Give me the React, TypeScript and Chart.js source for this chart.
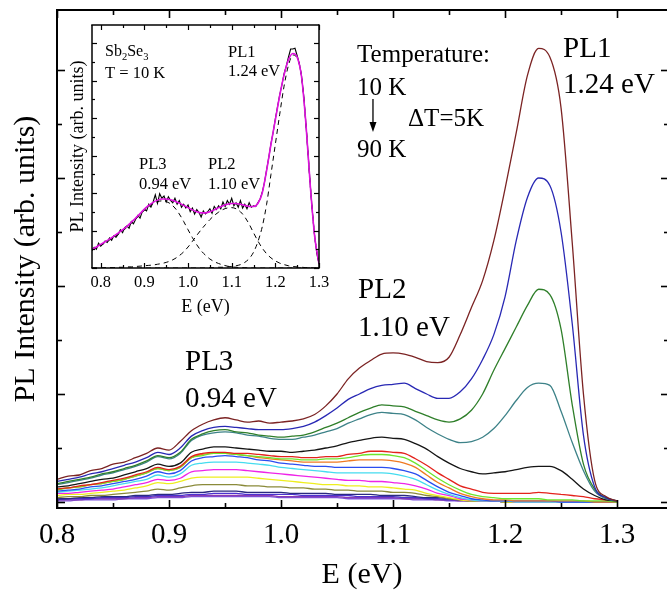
import React, { useEffect, useRef } from "react";
import { Chart, registerables } from "chart.js";

Chart.register(...registerables);

const SERIF = "'Liberation Serif', 'Times New Roman', Times, serif";

// ---------- Main plot data (E in eV, PL intensity in arb. units) ----------
const energies = [
  0.80, 0.81, 0.82, 0.83, 0.84, 0.85, 0.86, 0.87, 0.88, 0.89,
  0.90, 0.91, 0.92, 0.93, 0.94, 0.95, 0.96, 0.97, 0.98, 0.99,
  1.00, 1.01, 1.02, 1.03, 1.04, 1.05, 1.06, 1.07, 1.08, 1.09,
  1.10, 1.11, 1.12, 1.13, 1.14, 1.15, 1.16, 1.17, 1.18, 1.19,
  1.20, 1.21, 1.22, 1.23, 1.24, 1.25, 1.26, 1.27, 1.28, 1.29,
  1.30,
];

const pl10K = [
  0.21, 0.24, 0.25, 0.29, 0.31, 0.35, 0.37, 0.41, 0.45, 0.50,
  0.48, 0.56, 0.66, 0.72, 0.76, 0.78, 0.76, 0.74, 0.75, 0.73,
  0.74, 0.75, 0.77, 0.81, 0.89, 1.00, 1.14, 1.24, 1.31, 1.37,
  1.38, 1.37, 1.34, 1.30, 1.29, 1.34, 1.55, 1.80, 2.05, 2.42,
  2.90, 3.42, 3.95, 4.20, 4.12, 3.65, 2.40, 1.00, 0.20, 0.05,
  0.01,
];
const pl15K = [
  0.19, 0.21, 0.23, 0.26, 0.28, 0.31, 0.34, 0.37, 0.41, 0.46,
  0.44, 0.50, 0.61, 0.66, 0.69, 0.70, 0.69, 0.68, 0.67, 0.67,
  0.67, 0.68, 0.70, 0.74, 0.80, 0.87, 0.95, 1.00, 1.05, 1.08,
  1.09, 1.10, 1.05, 1.00, 0.96, 0.96, 1.02, 1.14, 1.32, 1.55,
  1.90, 2.42, 2.82, 3.00, 2.93, 2.50, 1.65, 0.62, 0.14, 0.04,
  0.01,
];
const pl20K = [
  0.17, 0.19, 0.21, 0.23, 0.26, 0.28, 0.31, 0.34, 0.38, 0.43,
  0.41, 0.46, 0.58, 0.63, 0.66, 0.67, 0.65, 0.64, 0.62, 0.61,
  0.60, 0.61, 0.62, 0.65, 0.69, 0.73, 0.78, 0.83, 0.87, 0.90,
  0.89, 0.88, 0.84, 0.80, 0.76, 0.74, 0.77, 0.85, 1.00, 1.22,
  1.42, 1.62, 1.82, 1.97, 1.92, 1.60, 0.90, 0.35, 0.12, 0.04,
  0.01,
];
const pl25K = [
  0.16, 0.18, 0.20, 0.22, 0.25, 0.27, 0.30, 0.33, 0.37, 0.42,
  0.40, 0.45, 0.57, 0.62, 0.64, 0.65, 0.64, 0.62, 0.61, 0.59,
  0.58, 0.58, 0.60, 0.62, 0.65, 0.68, 0.73, 0.77, 0.81, 0.83,
  0.82, 0.81, 0.76, 0.69, 0.63, 0.58, 0.55, 0.56, 0.60, 0.68,
  0.80, 0.94, 1.06, 1.10, 1.08, 0.84, 0.55, 0.29, 0.10, 0.03,
  0.01,
];
const pl30K = [
  0.14, 0.15, 0.17, 0.19, 0.21, 0.22, 0.25, 0.28, 0.31, 0.35,
  0.33, 0.36, 0.46, 0.49, 0.51, 0.51, 0.50, 0.49, 0.48, 0.47,
  0.47, 0.46, 0.47, 0.48, 0.50, 0.52, 0.55, 0.57, 0.59, 0.60,
  0.59, 0.58, 0.54, 0.49, 0.42, 0.36, 0.31, 0.28, 0.26, 0.27,
  0.28, 0.30, 0.32, 0.33, 0.33, 0.29, 0.21, 0.12, 0.06, 0.02,
  0.01,
];
const pl35K = [
  0.12, 0.13, 0.15, 0.16, 0.18, 0.20, 0.22, 0.25, 0.28, 0.32,
  0.30, 0.33, 0.42, 0.45, 0.46, 0.46, 0.45, 0.45, 0.44, 0.43,
  0.42, 0.42, 0.41, 0.41, 0.42, 0.42, 0.44, 0.45, 0.47, 0.47,
  0.46, 0.45, 0.40, 0.34, 0.27, 0.21, 0.15, 0.12, 0.09, 0.08,
  0.08, 0.08, 0.08, 0.09, 0.08, 0.07, 0.06, 0.05, 0.03, 0.02,
  0.01,
];
const pl40K = [
  0.11, 0.13, 0.14, 0.16, 0.17, 0.19, 0.21, 0.24, 0.27, 0.31,
  0.29, 0.32, 0.41, 0.43, 0.45, 0.45, 0.44, 0.43, 0.42, 0.41,
  0.40, 0.40, 0.39, 0.39, 0.40, 0.40, 0.41, 0.43, 0.44, 0.44,
  0.43, 0.41, 0.36, 0.29, 0.22, 0.16, 0.11, 0.07, 0.05, 0.04,
  0.03, 0.03, 0.03, 0.03, 0.02, 0.02, 0.02, 0.01, 0.01, 0.01,
  0.00,
];
const pl45K = [
  0.12, 0.13, 0.14, 0.16, 0.17, 0.19, 0.21, 0.24, 0.27, 0.31,
  0.29, 0.32, 0.41, 0.44, 0.45, 0.45, 0.44, 0.43, 0.41, 0.40,
  0.39, 0.38, 0.37, 0.37, 0.37, 0.37, 0.38, 0.39, 0.39, 0.39,
  0.38, 0.36, 0.32, 0.25, 0.18, 0.13, 0.08, 0.05, 0.03, 0.02,
  0.02, 0.01, 0.01, 0.01, 0.01, 0.01, 0.01, 0.01, 0.00, 0.00,
  0.00,
];
const pl50K = [
  0.10, 0.11, 0.12, 0.14, 0.15, 0.17, 0.19, 0.21, 0.24, 0.28,
  0.26, 0.29, 0.38, 0.41, 0.42, 0.43, 0.42, 0.41, 0.39, 0.38,
  0.36, 0.35, 0.34, 0.33, 0.33, 0.32, 0.32, 0.32, 0.32, 0.32,
  0.31, 0.29, 0.26, 0.20, 0.14, 0.09, 0.06, 0.03, 0.02, 0.01,
  0.01, 0.01, 0.01, 0.01, 0.01, 0.00, 0.00, 0.00, 0.00, 0.00,
  0.00,
];
const pl55K = [
  0.09, 0.10, 0.11, 0.12, 0.13, 0.15, 0.17, 0.19, 0.21, 0.25,
  0.23, 0.26, 0.34, 0.36, 0.37, 0.37, 0.37, 0.36, 0.35, 0.34,
  0.32, 0.31, 0.30, 0.29, 0.28, 0.27, 0.27, 0.27, 0.27, 0.27,
  0.26, 0.24, 0.21, 0.16, 0.11, 0.07, 0.04, 0.02, 0.01, 0.01,
  0.01, 0.00, 0.00, 0.00, 0.00, 0.00, 0.00, 0.00, 0.00, 0.00,
  0.00,
];
const pl60K = [
  0.08, 0.08, 0.09, 0.10, 0.11, 0.12, 0.14, 0.16, 0.18, 0.21,
  0.20, 0.22, 0.28, 0.29, 0.30, 0.30, 0.30, 0.29, 0.28, 0.27,
  0.26, 0.25, 0.24, 0.23, 0.22, 0.21, 0.20, 0.20, 0.19, 0.19,
  0.18, 0.17, 0.15, 0.12, 0.08, 0.06, 0.03, 0.02, 0.01, 0.01,
  0.01, 0.00, 0.00, 0.00, 0.00, 0.00, 0.00, 0.00, 0.00, 0.00,
  0.00,
];
const pl65K = [
  0.06, 0.07, 0.07, 0.08, 0.09, 0.10, 0.11, 0.13, 0.15, 0.18,
  0.17, 0.19, 0.22, 0.23, 0.23, 0.23, 0.23, 0.23, 0.22, 0.21,
  0.20, 0.19, 0.18, 0.17, 0.16, 0.16, 0.15, 0.15, 0.14, 0.14,
  0.13, 0.12, 0.11, 0.08, 0.06, 0.04, 0.02, 0.01, 0.01, 0.01,
  0.00, 0.00, 0.00, 0.00, 0.00, 0.00, 0.00, 0.00, 0.00, 0.00,
  0.00,
];
const pl70K = [
  0.04, 0.05, 0.05, 0.06, 0.06, 0.07, 0.08, 0.09, 0.10, 0.12,
  0.11, 0.13, 0.15, 0.16, 0.16, 0.16, 0.16, 0.15, 0.15, 0.14,
  0.14, 0.13, 0.13, 0.12, 0.12, 0.11, 0.11, 0.10, 0.10, 0.10,
  0.09, 0.09, 0.08, 0.06, 0.05, 0.03, 0.02, 0.01, 0.01, 0.01,
  0.00, 0.00, 0.00, 0.00, 0.00, 0.00, 0.00, 0.00, 0.00, 0.00,
  0.00,
];
const pl75K = [
  0.03, 0.03, 0.04, 0.04, 0.05, 0.05, 0.05, 0.06, 0.06, 0.07,
  0.07, 0.08, 0.09, 0.09, 0.10, 0.10, 0.10, 0.09, 0.09, 0.09,
  0.09, 0.08, 0.08, 0.08, 0.08, 0.07, 0.07, 0.07, 0.07, 0.06,
  0.06, 0.06, 0.05, 0.04, 0.04, 0.03, 0.02, 0.01, 0.01, 0.01,
  0.00, 0.00, 0.00, 0.00, 0.00, 0.00, 0.00, 0.00, 0.00, 0.00,
  0.00,
];
const pl80K = [
  0.02, 0.03, 0.03, 0.03, 0.04, 0.04, 0.04, 0.05, 0.05, 0.06,
  0.06, 0.06, 0.07, 0.07, 0.08, 0.08, 0.08, 0.07, 0.07, 0.07,
  0.07, 0.07, 0.06, 0.06, 0.06, 0.06, 0.06, 0.05, 0.05, 0.05,
  0.05, 0.04, 0.04, 0.03, 0.03, 0.02, 0.02, 0.01, 0.01, 0.01,
  0.00, 0.00, 0.00, 0.00, 0.00, 0.00, 0.00, 0.00, 0.00, 0.00,
  0.00,
];
const pl85K = [
  0.02, 0.02, 0.02, 0.03, 0.03, 0.03, 0.03, 0.04, 0.04, 0.05,
  0.05, 0.05, 0.06, 0.06, 0.06, 0.06, 0.06, 0.06, 0.06, 0.06,
  0.05, 0.05, 0.05, 0.05, 0.05, 0.05, 0.04, 0.04, 0.04, 0.04,
  0.04, 0.03, 0.03, 0.03, 0.02, 0.02, 0.01, 0.01, 0.01, 0.01,
  0.00, 0.00, 0.00, 0.00, 0.00, 0.00, 0.00, 0.00, 0.00, 0.00,
  0.00,
];
const pl90K = [
  0.01, 0.01, 0.02, 0.02, 0.02, 0.02, 0.03, 0.03, 0.03, 0.04,
  0.04, 0.04, 0.05, 0.05, 0.05, 0.05, 0.05, 0.05, 0.05, 0.05,
  0.04, 0.04, 0.04, 0.04, 0.04, 0.04, 0.03, 0.03, 0.03, 0.03,
  0.03, 0.03, 0.02, 0.02, 0.02, 0.01, 0.01, 0.01, 0.01, 0.01,
  0.00, 0.00, 0.00, 0.00, 0.00, 0.00, 0.00, 0.00, 0.00, 0.00,
  0.00,
];

const temperatures = [
  "10 K", "15 K", "20 K", "25 K", "30 K", "35 K", "40 K", "45 K", "50 K",
  "55 K", "60 K", "65 K", "70 K", "75 K", "80 K", "85 K", "90 K",
];
const seriesValues = [
  pl10K, pl15K, pl20K, pl25K, pl30K, pl35K, pl40K, pl45K, pl50K,
  pl55K, pl60K, pl65K, pl70K, pl75K, pl80K, pl85K, pl90K,
];
const seriesColors = [
  "#7b2323", "#2828b4", "#2f7f2a", "#3d8288", "#151515", "#e3231c",
  "#6ee52c", "#ef7a22", "#2a4ef0", "#45dcef", "#ee24e8", "#eeee1e",
  "#8a8a3a", "#2a2a80", "#4b32cf", "#8b3cb0", "#7a52e0",
];

const mainXMajor = [0.8, 0.9, 1.0, 1.1, 1.2, 1.3];
const mainXMinor = [0.85, 0.95, 1.05, 1.15, 1.25];
const mainYMajor = [0, 1, 2, 3, 4];
const mainYMinor = [0.5, 1.5, 2.5, 3.5];

// ---------- Inset data (T = 10 K) ----------
const insetEnergies = [
  0.78, 0.79, 0.80, 0.81, 0.82, 0.83, 0.84, 0.85, 0.86, 0.87,
  0.88, 0.89, 0.90, 0.91, 0.92, 0.93, 0.94, 0.95, 0.96, 0.97,
  0.98, 0.99, 1.00, 1.01, 1.02, 1.03, 1.04, 1.05, 1.06, 1.07,
  1.08, 1.09, 1.10, 1.11, 1.12, 1.13, 1.14, 1.15, 1.16, 1.17,
  1.18, 1.19, 1.20, 1.21, 1.22, 1.23, 1.24, 1.25, 1.26, 1.27,
  1.28, 1.29, 1.30,
];
const insetFit = [
  0.50, 0.56, 0.63, 0.70, 0.77, 0.85, 0.93, 1.02, 1.11, 1.22,
  1.33, 1.45, 1.57, 1.67, 1.75, 1.81, 1.84, 1.84, 1.82, 1.78,
  1.73, 1.67, 1.61, 1.55, 1.50, 1.47, 1.47, 1.50, 1.55, 1.61,
  1.66, 1.70, 1.72, 1.72, 1.70, 1.67, 1.64, 1.64, 1.72, 2.00,
  2.60, 3.30, 3.95, 4.60, 5.15, 5.55, 5.72, 5.62, 5.10, 3.85,
  2.20, 0.85, 0.10,
];
const insetPL3 = [
  0.48, 0.54, 0.60, 0.67, 0.74, 0.82, 0.90, 0.99, 1.08, 1.19,
  1.30, 1.42, 1.54, 1.64, 1.72, 1.77, 1.79, 1.77, 1.71, 1.60,
  1.44, 1.24, 1.02, 0.81, 0.62, 0.46, 0.34, 0.24, 0.17, 0.12,
  0.08, 0.05, 0.03, 0.02, 0.01, 0.01, 0.00, 0.00, 0.00, 0.00,
  0.00, 0.00, 0.00, 0.00, 0.00, 0.00, 0.00, 0.00, 0.00, 0.00,
  0.00, 0.00, 0.00,
];
const insetPL2 = [
  0.00, 0.00, 0.00, 0.01, 0.01, 0.01, 0.02, 0.02, 0.03, 0.03,
  0.04, 0.05, 0.06, 0.07, 0.08, 0.10, 0.12, 0.15, 0.19, 0.25,
  0.33, 0.43, 0.56, 0.71, 0.87, 1.02, 1.16, 1.29, 1.40, 1.49,
  1.56, 1.60, 1.61, 1.58, 1.50, 1.36, 1.17, 0.94, 0.72, 0.53,
  0.38, 0.27, 0.19, 0.13, 0.09, 0.06, 0.04, 0.03, 0.02, 0.01,
  0.01, 0.00, 0.00,
];
const insetPL1 = [
  0.00, 0.00, 0.00, 0.00, 0.00, 0.00, 0.00, 0.00, 0.00, 0.00,
  0.00, 0.00, 0.00, 0.00, 0.00, 0.00, 0.00, 0.00, 0.00, 0.00,
  0.00, 0.00, 0.00, 0.00, 0.00, 0.00, 0.00, 0.01, 0.01, 0.02,
  0.02, 0.03, 0.04, 0.06, 0.09, 0.15, 0.25, 0.42, 0.70, 1.10,
  1.70, 2.50, 3.30, 4.10, 4.85, 5.40, 5.68, 5.60, 5.10, 3.85,
  2.20, 0.85, 0.10,
];
const insetFineEnergies = [
  0.780, 0.785, 0.790, 0.795, 0.800, 0.805, 0.810, 0.815, 0.820, 0.825,
  0.830, 0.835, 0.840, 0.845, 0.850, 0.855, 0.860, 0.865, 0.870, 0.875,
  0.880, 0.885, 0.890, 0.895, 0.900, 0.905, 0.910, 0.915, 0.920, 0.925,
  0.930, 0.935, 0.940, 0.945, 0.950, 0.955, 0.960, 0.965, 0.970, 0.975,
  0.980, 0.985, 0.990, 0.995, 1.000, 1.005, 1.010, 1.015, 1.020, 1.025,
  1.030, 1.035, 1.040, 1.045, 1.050, 1.055, 1.060, 1.065, 1.070, 1.075,
  1.080, 1.085, 1.090, 1.095, 1.100, 1.105, 1.110, 1.115, 1.120, 1.125,
  1.130, 1.135, 1.140, 1.145, 1.150, 1.155, 1.160, 1.165, 1.170, 1.175,
  1.180, 1.185, 1.190, 1.195, 1.200, 1.205, 1.210, 1.215, 1.220, 1.225,
  1.230, 1.235, 1.240, 1.245, 1.250, 1.255, 1.260, 1.265, 1.270, 1.275,
  1.280, 1.285, 1.290, 1.295, 1.300,
];
const insetMeasured = [
  0.46, 0.55, 0.50, 0.66, 0.58, 0.64, 0.72, 0.68, 0.80, 0.74,
  0.86, 0.82, 0.90, 1.02, 0.94, 1.08, 1.12, 1.06, 1.24, 1.18,
  1.30, 1.40, 1.33, 1.50, 1.56, 1.52, 1.70, 1.62, 1.76, 1.95,
  1.72, 1.98, 1.86, 1.92, 1.76, 1.90, 1.80, 1.74, 1.86, 1.70,
  1.80, 1.62, 1.70, 1.60, 1.68, 1.50, 1.60, 1.44, 1.56, 1.48,
  1.36, 1.52, 1.44, 1.50, 1.58, 1.46, 1.64, 1.56, 1.66, 1.58,
  1.76, 1.64, 1.80, 1.70, 1.86, 1.66, 1.74, 1.62, 1.80, 1.60,
  1.70, 1.58, 1.74, 1.62, 1.66, 1.64, 1.74, 1.84, 2.02, 2.28,
  2.62, 2.95, 3.32, 3.62, 3.98, 4.30, 4.62, 4.88, 5.18, 5.38,
  5.62, 5.84, 5.84, 5.86, 5.66, 5.45, 5.12, 4.60, 3.85, 3.05,
  2.22, 1.48, 0.86, 0.38, 0.12,
];

const insetXMajor = [0.8, 0.9, 1.0, 1.1, 1.2, 1.3];
const insetXMinor = [0.85, 0.95, 1.05, 1.15, 1.25];
const insetYMajor = [0, 1, 2, 3, 4, 5, 6];
const insetYMinor = [0.5, 1.5, 2.5, 3.5, 4.5, 5.5];

// ---------- annotations (placed in data coordinates) ----------
const mainNotes = [
  { runs: [{ t: "Temperature:" }], x: 1.0679, y: 4.074, size: 25 },
  { runs: [{ t: "10 K" }], x: 1.0679, y: 3.769, size: 25 },
  { runs: [{ t: "\u0394T=5K" }], x: 1.1134, y: 3.481, size: 25 },
  { runs: [{ t: "90 K" }], x: 1.0679, y: 3.194, size: 25 },
  { runs: [{ t: "PL1" }], x: 1.2518, y: 4.12, size: 29 },
  { runs: [{ t: "1.24 eV" }], x: 1.2518, y: 3.787, size: 29 },
  { runs: [{ t: "PL2" }], x: 1.0688, y: 1.889, size: 29 },
  { runs: [{ t: "1.10 eV" }], x: 1.0688, y: 1.537, size: 29 },
  { runs: [{ t: "PL3" }], x: 0.9143, y: 1.222, size: 29 },
  { runs: [{ t: "0.94 eV" }], x: 0.9143, y: 0.88, size: 29 },
];
const mainArrows = [{ x: 1.0821, y1: 3.731, y2: 3.426 }];

const insetNotes = [
  { runs: [{ t: "Sb" }, { t: "2", sub: true }, { t: "Se" }, { t: "3", sub: true }], x: 0.8098, y: 5.653, size: 16 },
  { runs: [{ t: "T = 10 K" }], x: 0.8098, y: 5.067, size: 16.5 },
  { runs: [{ t: "PL1" }], x: 1.0916, y: 5.627, size: 16.5 },
  { runs: [{ t: "1.24 eV" }], x: 1.0916, y: 5.12, size: 16.5 },
  { runs: [{ t: "PL3" }], x: 0.8877, y: 2.64, size: 16.5 },
  { runs: [{ t: "0.94 eV" }], x: 0.8877, y: 2.107, size: 16.5 },
  { runs: [{ t: "PL2" }], x: 1.0457, y: 2.64, size: 16.5 },
  { runs: [{ t: "1.10 eV" }], x: 1.0457, y: 2.107, size: 16.5 },
];

// ---------- plugins ----------
function framePlugin(cfg: any) {
  return {
    id: "frameTicks",
    afterDatasetsDraw(chart: any) {
      const { ctx, chartArea: a, scales } = chart;
      const xs = scales.x;
      const ys = scales.y;
      ctx.save();
      ctx.strokeStyle = "#000";
      ctx.lineCap = "butt";
      const seg = (x1: number, y1: number, x2: number, y2: number) => {
        ctx.beginPath();
        ctx.moveTo(x1, y1);
        ctx.lineTo(x2, y2);
        ctx.stroke();
      };
      ctx.lineWidth = cfg.tickWidth;
      const xt = (vals: number[], len: number) =>
        vals.forEach((v) => {
          const p = Math.round(xs.getPixelForValue(v)) + 0.5;
          seg(p, a.bottom, p, a.bottom - len);
          seg(p, a.top, p, a.top + len);
        });
      const yt = (vals: number[], len: number, rlen: number) =>
        vals.forEach((v) => {
          const p = Math.round(ys.getPixelForValue(v)) + 0.5;
          seg(a.left, p, a.left + len, p);
          seg(a.right, p, a.right - rlen, p);
        });
      xt(cfg.xMajor, cfg.majorLen);
      xt(cfg.xMinor, cfg.minorLen);
      yt(cfg.yMajor, cfg.majorLen, cfg.rightMajorLen);
      yt(cfg.yMinor, cfg.minorLen, cfg.rightMinorLen);
      ctx.lineWidth = cfg.frameWidth;
      seg(a.left, a.top, a.left, a.bottom);
      seg(a.left - cfg.frameWidth / 2, a.top, a.right, a.top);
      seg(a.left - cfg.frameWidth / 2, a.bottom, a.right, a.bottom);
      if (cfg.rightLine) seg(a.right, a.top - cfg.frameWidth / 2, a.right, a.bottom + cfg.frameWidth / 2);
      ctx.restore();
    },
  };
}

function notesPlugin(notes: any[], arrows: any[]) {
  return {
    id: "notes",
    afterDatasetsDraw(chart: any) {
      const { ctx, scales } = chart;
      const xs = scales.x;
      const ys = scales.y;
      ctx.save();
      ctx.fillStyle = "#000";
      ctx.textBaseline = "alphabetic";
      ctx.textAlign = "left";
      notes.forEach((n) => {
        let px = xs.getPixelForValue(n.x);
        const py = ys.getPixelForValue(n.y);
        n.runs.forEach((r: any) => {
          const size = r.sub ? n.size * 0.66 : n.size;
          ctx.font = `${size}px ${SERIF}`;
          ctx.fillText(r.t, px, r.sub ? py + n.size * 0.22 : py);
          px += ctx.measureText(r.t).width;
        });
      });
      ctx.strokeStyle = "#000";
      ctx.lineWidth = 1.3;
      arrows.forEach((ar) => {
        const px = xs.getPixelForValue(ar.x);
        const p1 = ys.getPixelForValue(ar.y1);
        const p2 = ys.getPixelForValue(ar.y2);
        ctx.beginPath();
        ctx.moveTo(px, p1);
        ctx.lineTo(px, p2 - 8);
        ctx.stroke();
        ctx.beginPath();
        ctx.moveTo(px - 3.5, p2 - 10);
        ctx.lineTo(px + 3.5, p2 - 10);
        ctx.lineTo(px, p2);
        ctx.closePath();
        ctx.fill();
      });
      ctx.restore();
    },
  };
}

const toPoints = (xs: number[], ys: number[]) => xs.map((x, i) => ({ x, y: ys[i] }));
const fmt1 = (v: any) => Number(v).toFixed(1);

export default function App() {
  const mainRef = useRef<HTMLCanvasElement>(null);
  const insetRef = useRef<HTMLCanvasElement>(null);

  useEffect(() => {
    const mainChart = new Chart(mainRef.current as HTMLCanvasElement, {
      type: "line",
      data: {
        datasets: seriesValues.map((vals, i) => ({
          label: temperatures[i],
          data: toPoints(energies, vals),
          borderColor: seriesColors[i],
          backgroundColor: seriesColors[i],
          borderWidth: 1.3,
          pointRadius: 0,
          fill: false,
          cubicInterpolationMode: "monotone",
        })),
      },
      options: {
        responsive: false,
        animation: false,
        events: [],
        layout: { padding: { top: 10, right: 0, bottom: 0, left: 0 } },
        plugins: { legend: { display: false }, tooltip: { enabled: false } },
        scales: {
          x: {
            type: "linear",
            min: 0.8,
            max: 1.3446,
            grid: { display: false, drawTicks: false },
            border: { display: false },
            afterBuildTicks: (s: any) => {
              s.ticks = mainXMajor.map((v) => ({ value: v }));
            },
            ticks: {
              font: { family: SERIF, size: 29 },
              color: "#000",
              padding: 10,
              maxRotation: 0,
              autoSkip: false,
              callback: fmt1,
            },
            title: {
              display: true,
              text: "E (eV)",
              color: "#000",
              font: { family: SERIF, size: 30, lineHeight: 1 },
              padding: { top: 0, bottom: 1 },
            },
            afterFit: (s: any) => {
              s.height = 83;
            },
          },
          y: {
            type: "linear",
            min: -0.0556,
            max: 4.5556,
            grid: { display: false, drawTicks: false },
            border: { display: false },
            ticks: { display: false },
            title: {
              display: true,
              text: "PL Intensity (arb. units)",
              color: "#000",
              font: { family: SERIF, size: 30, lineHeight: 1.2 },
              padding: { top: 8, bottom: 0 },
            },
            afterFit: (s: any) => {
              s.width = 57;
            },
          },
        },
      },
      plugins: [
        framePlugin({
          xMajor: mainXMajor,
          xMinor: mainXMinor,
          yMajor: mainYMajor,
          yMinor: mainYMinor,
          majorLen: 8,
          minorLen: 5,
          rightMajorLen: 6,
          rightMinorLen: 3,
          tickWidth: 1.6,
          frameWidth: 2,
          rightLine: false,
        }),
        notesPlugin(mainNotes, mainArrows),
      ],
    } as any);

    const insetChart = new Chart(insetRef.current as HTMLCanvasElement, {
      type: "line",
      data: {
        datasets: [
          {
            label: "Fit",
            data: toPoints(insetEnergies, insetFit),
            borderColor: "#e010e0",
            borderWidth: 1.6,
            pointRadius: 0,
            cubicInterpolationMode: "monotone",
          },
          {
            label: "Measured",
            data: toPoints(insetFineEnergies, insetMeasured),
            borderColor: "#000",
            borderWidth: 1.1,
            pointRadius: 0,
            tension: 0,
          },
          {
            label: "PL1",
            data: toPoints(insetEnergies, insetPL1),
            borderColor: "#000",
            borderWidth: 1,
            borderDash: [5, 4],
            pointRadius: 0,
            cubicInterpolationMode: "monotone",
          },
          {
            label: "PL2",
            data: toPoints(insetEnergies, insetPL2),
            borderColor: "#000",
            borderWidth: 1,
            borderDash: [5, 4],
            pointRadius: 0,
            cubicInterpolationMode: "monotone",
          },
          {
            label: "PL3",
            data: toPoints(insetEnergies, insetPL3),
            borderColor: "#000",
            borderWidth: 1,
            borderDash: [5, 4],
            pointRadius: 0,
            cubicInterpolationMode: "monotone",
          },
        ],
      },
      options: {
        responsive: false,
        animation: false,
        events: [],
        layout: { padding: { top: 13, right: 16, bottom: 0, left: 0 } },
        plugins: { legend: { display: false }, tooltip: { enabled: false } },
        scales: {
          x: {
            type: "linear",
            min: 0.78,
            max: 1.3,
            grid: { display: false, drawTicks: false },
            border: { display: false },
            afterBuildTicks: (s: any) => {
              s.ticks = insetXMajor.map((v) => ({ value: v }));
            },
            ticks: {
              font: { family: SERIF, size: 16.5 },
              color: "#000",
              padding: 5,
              maxRotation: 0,
              autoSkip: false,
              callback: fmt1,
            },
            title: {
              display: true,
              text: "E (eV)",
              color: "#000",
              font: { family: SERIF, size: 18, lineHeight: 1.2 },
              padding: { top: 0, bottom: 2 },
            },
            afterFit: (s: any) => {
              s.height = 52;
            },
          },
          y: {
            type: "linear",
            min: 0,
            max: 6.48,
            grid: { display: false, drawTicks: false },
            border: { display: false },
            ticks: { display: false },
            title: {
              display: true,
              text: "PL Intensity (arb. units)",
              color: "#000",
              font: { family: SERIF, size: 18, lineHeight: 1.2 },
              padding: { top: 7, bottom: 0 },
            },
            afterFit: (s: any) => {
              s.width = 32;
            },
          },
        },
      },
      plugins: [
        framePlugin({
          xMajor: insetXMajor,
          xMinor: insetXMinor,
          yMajor: insetYMajor,
          yMinor: insetYMinor,
          majorLen: 5,
          minorLen: 3,
          rightMajorLen: 5,
          rightMinorLen: 3,
          tickWidth: 1.2,
          frameWidth: 1.5,
          rightLine: true,
        }),
        notesPlugin(insetNotes, []),
      ],
    } as any);

    return () => {
      mainChart.destroy();
      insetChart.destroy();
    };
  }, []);

  return (
    <div
      style={{
        position: "absolute",
        left: 0,
        top: 0,
        width: 667,
        height: 591,
        background: "#fff",
        overflow: "hidden",
      }}
    >
      <canvas ref={mainRef} width={667} height={591} style={{ position: "absolute", left: 0, top: 0 }} />
      <canvas ref={insetRef} width={275} height={308} style={{ position: "absolute", left: 60, top: 12 }} />
    </div>
  );
}
